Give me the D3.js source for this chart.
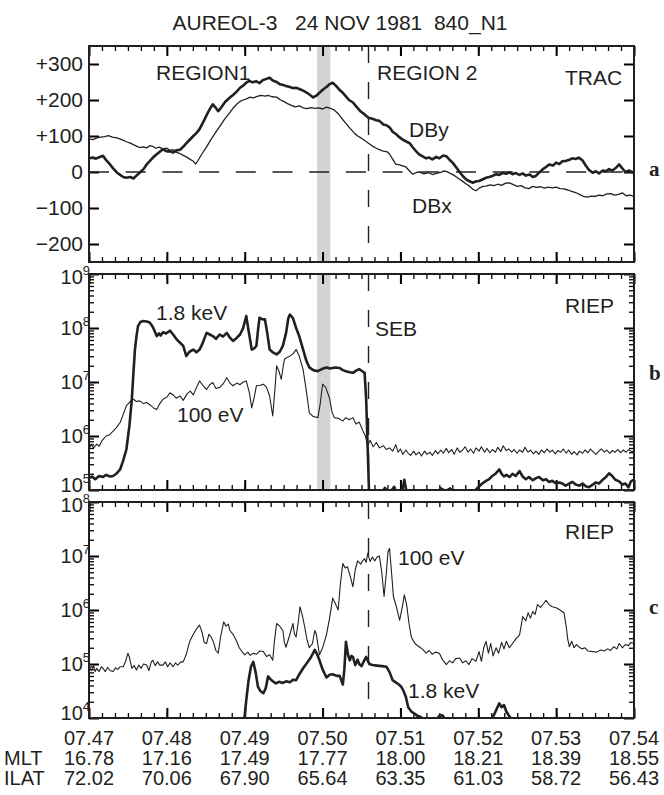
<!DOCTYPE html>
<html>
<head>
<meta charset="utf-8">
<script src="https://cdn.jsdelivr.net/npm/d3@7"></script>
<style>
  body { margin: 0; background: #fff; }
  text { font-family: "Liberation Sans", Arial, sans-serif; fill: #231f20; }
</style>
</head>
<body>
<svg id="chart" width="664" height="795"></svg>
<script>
// time in minutes after 07:47 UT
var timeLabels = ["07.47", "07.48", "07.49", "07.50", "07.51", "07.52", "07.53", "07.54"];
var mltLabels  = ["16.78", "17.16", "17.49", "17.77", "18.00", "18.21", "18.39", "18.55"];
var ilatLabels = ["72.02", "70.06", "67.90", "65.64", "63.35", "61.03", "58.72", "56.43"];
var magTicks = [-200, -100, 0, 100, 200, 300];
var magTickLabels = ["\u2212200", "\u2212100", "0", "+100", "+200", "+300"];

var shadeBand = [2.93, 3.10];   // grey interval (minutes)
var boundaryT = 3.59;           // REGION1 / REGION 2 boundary, SEB

// panel a, TRAC magnetometer (nT)
var dbx = [[0.00,92],[0.05,90],[0.10,95],[0.15,97],[0.20,98],[0.25,101],[0.30,97],[0.36,95],[0.42,90],[0.48,84],[0.53,80],[0.57,76],[0.61,72],[0.65,68],[0.70,70],[0.74,67],[0.78,73],[0.82,71],[0.86,66],[0.90,69],[0.95,64],[1.00,66],[1.04,60],[1.08,62],[1.12,55],[1.16,52],[1.21,46],[1.25,42],[1.30,35],[1.34,30],[1.37,22],[1.40,32],[1.45,50],[1.51,70],[1.56,88],[1.62,108],[1.68,127],[1.74,146],[1.80,163],[1.85,177],[1.90,189],[1.94,196],[1.98,200],[2.03,204],[2.07,208],[2.11,206],[2.16,210],[2.21,213],[2.26,211],[2.30,213],[2.35,209],[2.41,208],[2.46,200],[2.50,196],[2.55,190],[2.60,185],[2.65,181],[2.70,184],[2.75,178],[2.80,176],[2.85,179],[2.90,177],[2.95,178],[3.00,175],[3.05,180],[3.10,177],[3.15,172],[3.20,162],[3.25,148],[3.30,135],[3.35,122],[3.40,110],[3.45,100],[3.50,94],[3.55,86],[3.59,80],[3.64,72],[3.69,66],[3.73,62],[3.78,58],[3.83,56],[3.86,50],[3.90,36],[3.94,22],[3.99,20],[4.03,17],[4.07,14],[4.12,2],[4.16,-6],[4.20,-2],[4.24,0],[4.30,-5],[4.36,-2],[4.41,-7],[4.46,-4],[4.52,-1],[4.56,3],[4.60,1],[4.64,-4],[4.68,-8],[4.72,-14],[4.76,-20],[4.80,-26],[4.85,-34],[4.89,-40],[4.93,-48],[4.97,-52],[5.02,-44],[5.06,-40],[5.10,-39],[5.15,-36],[5.20,-38],[5.25,-34],[5.30,-37],[5.35,-31],[5.40,-30],[5.45,-35],[5.50,-40],[5.55,-38],[5.60,-44],[5.65,-46],[5.70,-40],[5.75,-43],[5.80,-41],[5.85,-45],[5.90,-42],[5.95,-44],[6.00,-42],[6.05,-46],[6.10,-47],[6.15,-50],[6.20,-54],[6.25,-57],[6.30,-62],[6.35,-68],[6.40,-70],[6.45,-67],[6.50,-68],[6.55,-64],[6.60,-66],[6.65,-61],[6.70,-60],[6.75,-64],[6.80,-62],[6.85,-58],[6.90,-66],[6.95,-64],[7.00,-68]];

var dby = [[0.00,38],[0.05,40],[0.09,37],[0.13,41],[0.18,45],[0.22,33],[0.27,21],[0.31,10],[0.36,-2],[0.40,-8],[0.44,-14],[0.48,-16],[0.53,-14],[0.57,-18],[0.61,-10],[0.65,-2],[0.70,8],[0.74,21],[0.78,30],[0.83,42],[0.87,49],[0.91,56],[0.95,63],[1.00,57],[1.04,58],[1.08,54],[1.12,60],[1.17,62],[1.21,70],[1.26,82],[1.30,91],[1.34,100],[1.38,108],[1.42,119],[1.47,140],[1.52,162],[1.56,178],[1.59,188],[1.63,178],[1.66,169],[1.70,180],[1.75,195],[1.81,207],[1.85,214],[1.90,224],[1.94,234],[1.98,240],[2.02,248],[2.06,253],[2.10,249],[2.15,252],[2.19,247],[2.23,255],[2.27,258],[2.32,262],[2.36,254],[2.41,250],[2.45,244],[2.49,242],[2.53,239],[2.58,236],[2.62,233],[2.66,234],[2.71,230],[2.75,226],[2.80,220],[2.84,214],[2.88,207],[2.92,212],[2.96,220],[3.01,230],[3.05,236],[3.09,244],[3.13,248],[3.17,240],[3.21,230],[3.26,220],[3.30,210],[3.34,200],[3.39,193],[3.44,180],[3.49,168],[3.54,160],[3.59,151],[3.64,148],[3.69,144],[3.73,142],[3.78,132],[3.82,130],[3.86,124],[3.90,112],[3.95,104],[3.99,96],[4.03,90],[4.08,84],[4.12,80],[4.16,68],[4.20,58],[4.24,49],[4.28,44],[4.33,38],[4.37,40],[4.41,35],[4.46,42],[4.50,38],[4.55,46],[4.59,44],[4.63,34],[4.67,26],[4.72,12],[4.76,0],[4.80,-11],[4.84,-20],[4.88,-25],[4.93,-30],[4.97,-26],[5.01,-25],[5.06,-20],[5.10,-16],[5.14,-14],[5.18,-11],[5.23,-6],[5.27,-8],[5.31,-3],[5.36,-5],[5.40,-1],[5.44,-6],[5.48,-3],[5.53,-8],[5.57,-4],[5.61,-10],[5.66,-7],[5.70,-14],[5.74,-11],[5.78,-2],[5.83,8],[5.87,14],[5.91,21],[5.96,18],[6.00,26],[6.04,22],[6.08,30],[6.13,31],[6.17,34],[6.21,38],[6.25,36],[6.29,40],[6.34,32],[6.38,18],[6.42,6],[6.47,-2],[6.51,2],[6.55,-4],[6.60,4],[6.64,2],[6.68,8],[6.72,4],[6.77,12],[6.81,21],[6.85,10],[6.89,0],[6.94,4],[6.98,-1],[7.00,2]];

// panel b, RIEP fluxes (log10)
var b18keV = [[0.00,5.22],[0.04,5.25],[0.08,5.20],[0.13,5.26],[0.18,5.24],[0.22,5.28],[0.27,5.25],[0.31,5.26],[0.35,5.30],[0.40,5.38],[0.44,5.55],[0.48,5.75],[0.52,6.20],[0.55,6.68],[0.57,7.15],[0.59,7.60],[0.61,7.85],[0.63,8.04],[0.66,8.11],[0.70,8.13],[0.74,8.12],[0.78,8.10],[0.82,8.02],[0.87,7.85],[0.90,7.90],[0.92,7.86],[0.95,7.92],[0.99,7.90],[1.04,7.95],[1.08,7.88],[1.12,7.80],[1.16,7.74],[1.21,7.67],[1.25,7.48],[1.29,7.56],[1.34,7.60],[1.38,7.55],[1.42,7.60],[1.46,7.72],[1.51,7.91],[1.55,7.88],[1.59,7.85],[1.63,7.80],[1.68,7.88],[1.72,7.84],[1.77,7.91],[1.81,7.82],[1.85,7.76],[1.90,7.82],[1.94,7.88],[1.98,8.00],[2.02,8.22],[2.05,7.95],[2.09,7.60],[2.12,7.62],[2.15,7.67],[2.17,7.95],[2.19,8.19],[2.23,8.16],[2.26,8.16],[2.29,7.90],[2.32,7.60],[2.36,7.55],[2.41,7.51],[2.45,7.56],[2.49,7.67],[2.53,7.90],[2.56,8.18],[2.58,8.25],[2.62,8.18],[2.66,8.00],[2.70,7.85],[2.75,7.60],[2.79,7.40],[2.83,7.27],[2.88,7.22],[2.94,7.20],[2.99,7.24],[3.05,7.27],[3.10,7.25],[3.16,7.27],[3.22,7.26],[3.26,7.22],[3.30,7.20],[3.35,7.18],[3.39,7.17],[3.43,7.21],[3.47,7.24],[3.51,7.20],[3.54,7.17],[3.56,6.68],[3.58,5.75],[3.60,4.80],[3.62,4.70],[3.70,4.80],[3.76,4.95],[3.80,5.04],[3.84,4.96],[3.88,4.98],[3.92,5.06],[3.96,4.90],[4.02,4.95],[4.05,5.19],[4.08,4.96],[4.12,4.85],[4.30,4.80],[4.45,4.90],[4.52,5.03],[4.58,4.98],[4.64,5.03],[4.70,4.90],[4.85,4.85],[4.95,4.98],[5.00,5.05],[5.05,5.12],[5.10,5.17],[5.14,5.20],[5.18,5.26],[5.22,5.30],[5.27,5.38],[5.30,5.30],[5.33,5.25],[5.36,5.28],[5.40,5.24],[5.44,5.30],[5.48,5.26],[5.53,5.35],[5.57,5.25],[5.61,5.20],[5.65,5.24],[5.70,5.18],[5.74,5.22],[5.78,5.24],[5.83,5.18],[5.87,5.20],[5.91,5.15],[5.95,5.17],[6.00,5.12],[6.04,5.14],[6.08,5.12],[6.12,5.08],[6.17,5.12],[6.21,5.15],[6.25,5.10],[6.30,5.08],[6.34,5.12],[6.38,5.07],[6.42,5.05],[6.47,5.10],[6.51,5.14],[6.55,5.12],[6.59,5.18],[6.64,5.24],[6.68,5.31],[6.72,5.26],[6.76,5.19],[6.81,5.16],[6.85,5.10],[6.89,5.12],[6.93,5.05],[6.96,5.16],[7.00,5.19]];

var b100eV = [[0.00,5.75],[0.03,5.85],[0.06,5.78],[0.10,5.85],[0.13,5.81],[0.17,5.92],[0.22,6.00],[0.26,6.02],[0.31,6.09],[0.35,6.15],[0.40,6.25],[0.44,6.40],[0.48,6.56],[0.53,6.64],[0.57,6.68],[0.61,6.64],[0.65,6.65],[0.70,6.60],[0.74,6.62],[0.78,6.58],[0.83,6.52],[0.87,6.49],[0.91,6.60],[0.95,6.68],[1.00,6.72],[1.04,6.80],[1.08,6.76],[1.12,6.70],[1.17,6.74],[1.21,6.66],[1.26,6.78],[1.30,6.83],[1.34,6.76],[1.38,6.90],[1.42,7.02],[1.46,6.94],[1.51,6.86],[1.55,6.95],[1.59,6.99],[1.63,6.88],[1.68,6.90],[1.72,6.96],[1.77,7.08],[1.81,6.98],[1.85,6.93],[1.90,6.98],[1.94,6.95],[1.98,7.00],[2.02,7.02],[2.06,6.80],[2.09,6.52],[2.12,6.70],[2.15,6.93],[2.20,6.94],[2.24,6.96],[2.28,6.90],[2.32,6.74],[2.36,6.37],[2.39,6.90],[2.41,7.30],[2.44,7.20],[2.47,7.05],[2.49,7.25],[2.51,7.42],[2.55,7.46],[2.58,7.48],[2.62,7.52],[2.66,7.60],[2.70,7.48],[2.75,7.23],[2.79,6.85],[2.83,6.43],[2.88,6.36],[2.94,6.34],[2.97,6.60],[3.00,6.96],[3.04,6.90],[3.09,6.70],[3.12,6.45],[3.15,6.34],[3.20,6.33],[3.26,6.28],[3.30,6.34],[3.34,6.30],[3.39,6.34],[3.43,6.22],[3.47,6.26],[3.52,6.09],[3.55,6.00],[3.58,5.82],[3.61,5.92],[3.65,5.80],[3.69,5.88],[3.73,5.78],[3.78,5.82],[3.82,5.75],[3.86,5.78],[3.90,5.72],[3.94,5.84],[3.97,5.70],[4.00,5.76],[4.03,5.66],[4.07,5.74],[4.10,5.68],[4.13,5.64],[4.17,5.72],[4.20,5.65],[4.24,5.70],[4.27,5.63],[4.31,5.72],[4.34,5.66],[4.38,5.70],[4.41,5.64],[4.45,5.73],[4.48,5.67],[4.52,5.74],[4.55,5.68],[4.59,5.77],[4.62,5.69],[4.66,5.75],[4.69,5.66],[4.73,5.78],[4.76,5.70],[4.80,5.74],[4.83,5.80],[4.87,5.70],[4.90,5.76],[4.94,5.68],[4.97,5.78],[5.01,5.72],[5.04,5.80],[5.08,5.70],[5.11,5.77],[5.15,5.69],[5.18,5.75],[5.22,5.70],[5.25,5.79],[5.29,5.71],[5.32,5.82],[5.36,5.73],[5.39,5.76],[5.43,5.70],[5.46,5.75],[5.50,5.68],[5.53,5.74],[5.57,5.70],[5.60,5.79],[5.64,5.70],[5.67,5.74],[5.71,5.67],[5.74,5.72],[5.78,5.66],[5.81,5.74],[5.85,5.69],[5.88,5.76],[5.92,5.70],[5.95,5.74],[5.99,5.67],[6.02,5.73],[6.06,5.70],[6.09,5.76],[6.13,5.68],[6.16,5.74],[6.20,5.66],[6.23,5.71],[6.27,5.65],[6.30,5.72],[6.34,5.68],[6.37,5.74],[6.41,5.69],[6.44,5.76],[6.48,5.70],[6.51,5.66],[6.55,5.72],[6.58,5.76],[6.62,5.70],[6.65,5.74],[6.69,5.68],[6.72,5.73],[6.76,5.70],[6.79,5.75],[6.83,5.69],[6.86,5.74],[6.90,5.70],[6.93,5.75],[6.97,5.71],[7.00,5.72]];

// panel c, RIEP fluxes (log10)
var c100eV = [[0.00,4.95],[0.03,4.88],[0.06,4.97],[0.08,4.86],[0.10,4.92],[0.13,4.86],[0.16,4.95],[0.18,4.92],[0.21,4.86],[0.24,4.94],[0.27,4.88],[0.31,4.86],[0.34,4.93],[0.37,4.90],[0.40,4.95],[0.44,4.95],[0.47,5.05],[0.50,5.20],[0.52,5.12],[0.55,4.92],[0.58,4.97],[0.61,4.89],[0.64,4.98],[0.67,4.92],[0.70,5.00],[0.74,4.98],[0.77,4.88],[0.80,5.04],[0.82,5.07],[0.85,4.97],[0.88,5.04],[0.91,4.98],[0.95,4.98],[0.98,5.04],[1.01,4.95],[1.04,5.02],[1.08,4.95],[1.11,5.02],[1.14,4.98],[1.18,5.04],[1.21,5.04],[1.25,5.18],[1.28,5.35],[1.30,5.44],[1.34,5.55],[1.38,5.65],[1.42,5.72],[1.45,5.60],[1.48,5.40],[1.51,5.38],[1.54,5.55],[1.57,5.50],[1.60,5.40],[1.63,5.25],[1.66,5.20],[1.69,5.50],[1.73,5.78],[1.76,5.70],[1.79,5.74],[1.81,5.62],[1.85,5.55],[1.89,5.44],[1.93,5.30],[1.97,5.22],[2.00,5.17],[2.04,5.22],[2.07,5.16],[2.11,5.20],[2.15,5.18],[2.19,5.24],[2.24,5.23],[2.28,5.14],[2.32,5.17],[2.36,5.07],[2.38,5.40],[2.41,5.75],[2.45,5.70],[2.49,5.62],[2.51,5.40],[2.53,5.31],[2.57,5.50],[2.62,5.75],[2.64,5.55],[2.66,5.50],[2.69,5.80],[2.71,6.06],[2.74,5.90],[2.77,5.69],[2.80,5.45],[2.83,5.30],[2.87,5.38],[2.90,5.62],[2.92,5.55],[2.96,5.17],[3.00,5.30],[3.05,5.54],[3.09,5.85],[3.13,6.22],[3.17,6.10],[3.20,6.00],[3.23,6.50],[3.26,6.86],[3.29,6.78],[3.32,6.80],[3.36,6.60],[3.39,6.43],[3.42,6.75],[3.45,6.91],[3.49,6.85],[3.52,6.92],[3.54,6.95],[3.56,6.88],[3.58,7.05],[3.61,6.90],[3.64,6.98],[3.67,6.91],[3.70,6.98],[3.73,7.00],[3.76,6.70],[3.79,6.25],[3.82,6.70],[3.84,7.08],[3.86,7.14],[3.88,6.80],[3.91,6.25],[3.95,6.05],[3.99,5.81],[4.03,6.10],[4.05,6.28],[4.08,6.10],[4.11,5.75],[4.14,5.50],[4.17,5.42],[4.20,5.36],[4.24,5.32],[4.28,5.28],[4.33,5.20],[4.37,5.25],[4.41,5.18],[4.45,5.22],[4.50,5.20],[4.54,5.08],[4.59,4.99],[4.63,5.06],[4.67,5.02],[4.71,5.10],[4.76,5.11],[4.80,5.02],[4.84,5.06],[4.88,4.99],[4.92,5.10],[4.97,5.05],[5.01,5.23],[5.04,5.05],[5.07,5.30],[5.10,5.42],[5.13,5.20],[5.16,5.38],[5.19,5.15],[5.23,5.30],[5.26,5.20],[5.30,5.40],[5.33,5.28],[5.36,5.42],[5.40,5.30],[5.44,5.38],[5.48,5.46],[5.53,5.54],[5.55,5.70],[5.57,5.88],[5.61,5.80],[5.64,5.95],[5.67,5.85],[5.70,5.97],[5.73,5.92],[5.76,6.10],[5.80,6.05],[5.84,6.12],[5.87,6.18],[5.91,6.10],[5.95,6.06],[6.00,6.04],[6.05,6.00],[6.10,5.95],[6.13,5.69],[6.15,5.45],[6.17,5.32],[6.20,5.42],[6.23,5.30],[6.26,5.36],[6.29,5.32],[6.33,5.28],[6.37,5.30],[6.41,5.24],[6.47,5.23],[6.52,5.22],[6.57,5.26],[6.62,5.24],[6.66,5.28],[6.70,5.25],[6.74,5.32],[6.78,5.28],[6.81,5.38],[6.85,5.30],[6.89,5.36],[6.93,5.34],[6.96,5.40],[7.00,5.38]];

var c18keV = [[1.98,3.80],[2.00,4.05],[2.02,4.33],[2.05,4.70],[2.08,4.95],[2.11,5.04],[2.14,4.85],[2.17,4.58],[2.20,4.50],[2.24,4.46],[2.27,4.55],[2.30,4.77],[2.33,4.72],[2.36,4.68],[2.40,4.64],[2.44,4.67],[2.49,4.65],[2.53,4.68],[2.58,4.66],[2.62,4.71],[2.66,4.70],[2.71,4.83],[2.75,4.92],[2.79,5.00],[2.84,5.10],[2.87,5.18],[2.90,5.26],[2.93,5.18],[2.96,5.07],[3.00,4.90],[3.05,4.75],[3.09,4.80],[3.13,4.81],[3.18,4.78],[3.22,4.78],[3.26,4.62],[3.28,4.90],[3.30,5.41],[3.33,5.15],[3.35,5.07],[3.37,5.15],[3.39,5.13],[3.42,4.98],[3.45,5.08],[3.47,5.00],[3.50,4.96],[3.53,5.05],[3.56,5.13],[3.60,5.00],[3.64,4.98],[3.70,4.97],[3.76,4.96],[3.82,4.95],[3.86,4.85],[3.90,4.70],[3.94,4.66],[3.98,4.62],[4.01,4.58],[4.04,4.50],[4.07,4.39],[4.10,4.20],[4.14,4.12],[4.18,4.08],[4.22,4.04],[4.26,4.02],[4.32,3.95],[4.45,3.95],[4.50,4.04],[4.54,4.05],[4.58,3.96],[5.15,3.95],[5.20,4.05],[5.24,4.18],[5.27,4.27],[5.30,4.20],[5.33,4.24],[5.36,4.12],[5.40,4.03],[5.44,3.95]];

var left = 89, right = 634;
var svg = d3.select("#chart");

var x = d3.scaleLinear().domain([0, 7]).range([left, right]);
var majorT = d3.range(0, 8);
var minorT = d3.range(0, 43).map(function(i) { return i / 6; });

var panels = [
  { id: "a", top: 46, bottom: 262, y: d3.scaleLinear().domain([-250, 350]).range([262, 46]) },
  { id: "b", top: 274, bottom: 490, y: d3.scaleLog().domain([1e5, 1e9]).range([490, 274]) },
  { id: "c", top: 502, bottom: 718, y: d3.scaleLog().domain([1e4, 1e8]).range([718, 502]) }
];

function logMinor(lo, hi) {
  var out = [];
  for (var d = lo; d < hi; d++) for (var k = 2; k < 10; k++) out.push(k * Math.pow(10, d));
  return out;
}
function logMajor(lo, hi) { return d3.range(lo, hi + 1).map(function(d) { return Math.pow(10, d); }); }

// title
svg.append("text").attr("x", 340).attr("y", 30).attr("text-anchor", "middle")
  .attr("font-size", 21).style("white-space", "pre").text("AUREOL-3   24 NOV 1981  840_N1");

panels.forEach(function(p, i) {
  var g = svg.append("g");
  g.append("clipPath").attr("id", "clip" + p.id)
    .append("rect").attr("x", left).attr("y", p.top).attr("width", right - left).attr("height", p.bottom - p.top);

  // grey band (panels a and b)
  if (p.id !== "c") {
    g.append("rect").attr("x", x(shadeBand[0])).attr("y", p.top)
      .attr("width", x(shadeBand[1]) - x(shadeBand[0])).attr("height", p.bottom - p.top)
      .attr("fill", "#d3d3d3");
  }

  // boundary dashed line
  g.append("line").attr("x1", x(boundaryT)).attr("x2", x(boundaryT))
    .attr("y1", p.top).attr("y2", p.bottom)
    .attr("stroke", "#231f20").attr("stroke-width", 1.4).attr("stroke-dasharray", "17,19");

  // x ticks, top and bottom, inward
  [[d3.axisBottom, p.bottom], [d3.axisTop, p.top]].forEach(function(a) {
    g.append("g").attr("transform", "translate(0," + a[1] + ")")
      .call(a[0](x).tickValues(minorT).tickSize(-5).tickSizeOuter(0).tickFormat(""))
      .call(function(s) { s.select(".domain").remove(); s.selectAll("line").attr("stroke-width", 1.3); });
    g.append("g").attr("transform", "translate(0," + a[1] + ")")
      .call(a[0](x).tickValues(majorT).tickSize(-10).tickSizeOuter(0).tickFormat(""))
      .call(function(s) { s.select(".domain").remove(); s.selectAll("line").attr("stroke-width", 2); });
  });

  // y ticks, left and right, inward
  var majY, minY;
  if (p.id === "a") { majY = magTicks; minY = []; }
  else if (p.id === "b") { majY = logMajor(5, 9); minY = logMinor(5, 9); }
  else { majY = logMajor(4, 8); minY = logMinor(4, 8); }
  [[d3.axisLeft, left], [d3.axisRight, right]].forEach(function(a) {
    if (minY.length) {
      g.append("g").attr("transform", "translate(" + a[1] + ",0)")
        .call(a[0](p.y).tickValues(minY).tickSize(-5).tickSizeOuter(0).tickFormat(""))
        .call(function(s) { s.select(".domain").remove(); s.selectAll("line").attr("stroke-width", 1.3); });
    }
    g.append("g").attr("transform", "translate(" + a[1] + ",0)")
      .call(a[0](p.y).tickValues(majY).tickSize(-10).tickSizeOuter(0).tickFormat(""))
      .call(function(s) { s.select(".domain").remove(); s.selectAll("line").attr("stroke-width", 2); });
  });

  // y tick labels
  if (p.id === "a") {
    magTicks.forEach(function(v, k) {
      g.append("text").attr("x", 83).attr("y", p.y(v) + 7).attr("text-anchor", "end")
        .attr("font-size", 21).text(magTickLabels[k]);
    });
    g.append("line").attr("x1", left).attr("x2", right).attr("y1", p.y(0)).attr("y2", p.y(0))
      .attr("stroke", "#231f20").attr("stroke-width", 1.4).attr("stroke-dasharray", "20,16.7");
  } else {
    majY.forEach(function(v, k) {
      var off = k === 0 ? 2 : (k === majY.length - 1 ? 10 : 7);
      var t = g.append("text").attr("x", 90).attr("y", p.y(v) + off).attr("text-anchor", "end").attr("font-size", 20);
      t.append("tspan").text("10");
      t.append("tspan").attr("dy", -9).attr("font-size", 13).text(Math.round(Math.log10(v)));
    });
  }

  // frame
  g.append("rect").attr("x", left).attr("y", p.top).attr("width", right - left).attr("height", p.bottom - p.top)
    .attr("fill", "none").attr("stroke", "#231f20").attr("stroke-width", 2);

  // panel letter
  g.append("text").attr("x", 649).attr("y", [176, 380, 614][i])
    .style("font-family", "'Liberation Serif', 'Times New Roman', serif")
    .attr("font-weight", "bold").attr("font-size", 21).text(p.id);
});

// curves
var pa = panels[0], pb = panels[1], pc = panels[2];
function drawLine(p, data, isLog, width) {
  var line = d3.line()
    .x(function(d) { return x(d[0]); })
    .y(function(d) { return p.y(isLog ? Math.pow(10, d[1]) : d[1]); });
  svg.append("path").datum(data).attr("clip-path", "url(#clip" + p.id + ")")
    .attr("d", line).attr("fill", "none").attr("stroke", "#231f20")
    .attr("stroke-width", width).attr("stroke-linejoin", "round");
}
drawLine(pa, dbx, false, 1.3);
drawLine(pa, dby, false, 2.6);
drawLine(pb, b100eV, true, 1.1);
drawLine(pb, b18keV, true, 2.6);
drawLine(pc, c100eV, true, 1.1);
drawLine(pc, c18keV, true, 2.6);

// annotations
var notes = [
  ["REGION1", 156, 80], ["REGION 2", 377, 80], ["TRAC", 565, 85], ["DBy", 409, 137], ["DBx", 412, 213],
  ["1.8 keV", 156, 320], ["100 eV", 177, 422], ["RIEP", 565, 313], ["SEB", 375, 336],
  ["RIEP", 565, 539], ["100 eV", 398, 565], ["1.8 keV", 408, 698]
];
notes.forEach(function(n) {
  svg.append("text").attr("x", n[1]).attr("y", n[2]).attr("font-size", 21).text(n[0]);
});

// bottom label rows
timeLabels.forEach(function(s, k) {
  svg.append("text").attr("x", x(k)).attr("y", 745).attr("text-anchor", "middle").attr("font-size", 20).text(s);
  svg.append("text").attr("x", x(k)).attr("y", 765).attr("text-anchor", "middle").attr("font-size", 20).text(mltLabels[k]);
  svg.append("text").attr("x", x(k)).attr("y", 785).attr("text-anchor", "middle").attr("font-size", 20).text(ilatLabels[k]);
});
svg.append("text").attr("x", 4).attr("y", 765).attr("font-size", 20).text("MLT");
svg.append("text").attr("x", 4).attr("y", 785).attr("font-size", 20).text("ILAT");
</script>
</body>
</html>
